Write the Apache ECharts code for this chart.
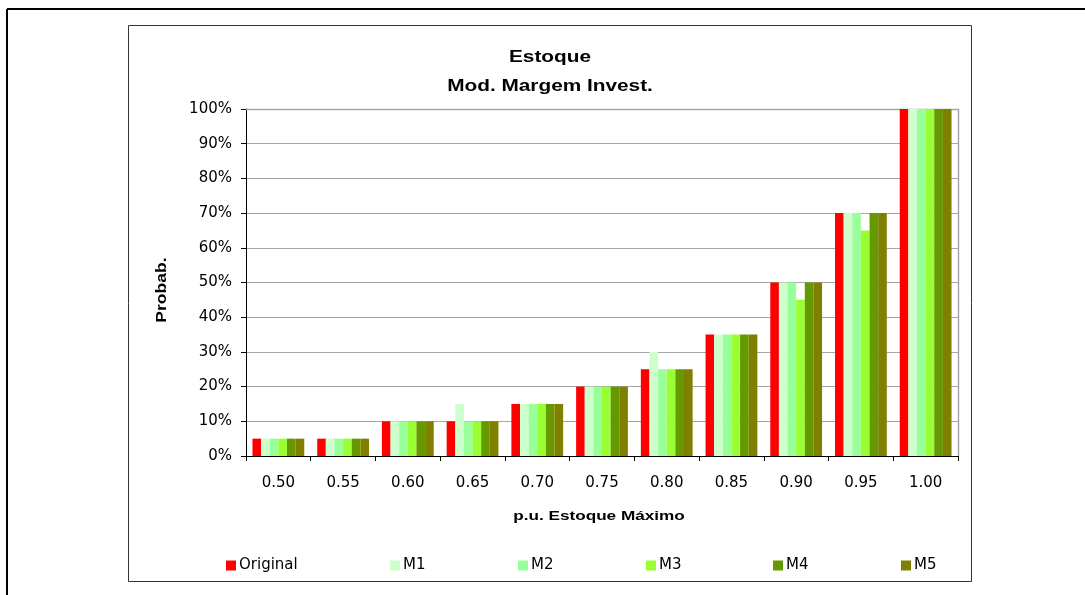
<!DOCTYPE html>
<html>
<head>
<meta charset="utf-8">
<script src="https://cdn.jsdelivr.net/npm/echarts@6/dist/echarts.min.js"></script>
<style>
  html, body { margin: 0; padding: 0; background: #fff; }
  #chart { width: 1085px; height: 595px; }
</style>
</head>
<body>
<div id="chart"></div>
<script>
// Stock probability by maximum-stock fraction, per model variant
const categories = ['0.50', '0.55', '0.60', '0.65', '0.70', '0.75', '0.80', '0.85', '0.90', '0.95', '1.00'];
const original = [5, 5, 10, 10, 15, 20, 25, 35, 50, 70, 100];
const m1 = [5, 5, 10, 15, 15, 20, 30, 35, 50, 70, 100];
const m2 = [5, 5, 10, 10, 15, 20, 25, 35, 50, 70, 100];
const m3 = [5, 5, 10, 10, 15, 20, 25, 35, 45, 65, 100];
const m4 = [5, 5, 10, 10, 15, 20, 25, 35, 50, 70, 100];
const m5 = [5, 5, 10, 10, 15, 20, 25, 35, 50, 70, 100];
const seriesNames = ['Original', 'M1', 'M2', 'M3', 'M4', 'M5'];
const seriesData = [original, m1, m2, m3, m4, m5];
const colors = ['#ff0000', '#ccffcc', '#99ff99', '#99ff33', '#669900', '#808000'];
const legendLefts = [221, 385, 513, 641, 768, 896];
const titleLines = ['Estoque', 'Mod. Margem Invest.'];
const xAxisTitle = 'p.u. Estoque Máximo';
const yAxisTitle = 'Probab.';

const LABEL_FONT = '"DejaVu Sans", "Liberation Sans", sans-serif';
const HEAD_FONT = '"Liberation Sans", Arial, sans-serif';

const chart = echarts.init(document.getElementById('chart'), null, { renderer: 'canvas' });

// wide bold heading text, centred on (x, y)
function heading(text, x, y, size, stretch, rotation) {
  return {
    type: 'text',
    x: x, y: y,
    rotation: rotation || 0,
    scaleX: stretch,
    style: {
      text: text,
      fontFamily: HEAD_FONT,
      fontSize: size,
      fontWeight: 'bold',
      fill: '#000',
      align: 'center',
      verticalAlign: 'middle'
    },
    z: 10
  };
}

const option = {
  backgroundColor: '#ffffff',
  animation: false,
  color: colors,
  textStyle: { fontFamily: LABEL_FONT, color: '#000' },
  legend: seriesNames.map((name, i) => ({
    data: [name],
    left: legendLefts[i],
    top: 553,
    itemWidth: 10,
    itemHeight: 10,
    itemGap: 4,
    icon: 'rect',
    selectedMode: false,
    textStyle: { fontFamily: LABEL_FONT, fontSize: 15, color: '#000', padding: [0, 0, 0, -2] }
  })),
  grid: { left: 246, right: 127, top: 109, bottom: 139, containLabel: false },
  xAxis: {
    type: 'category',
    data: categories,
    axisLine: { lineStyle: { color: '#000', width: 1 } },
    axisTick: { show: true, length: 5, lineStyle: { color: '#000' } },
    axisLabel: { fontFamily: LABEL_FONT, fontSize: 15, color: '#000', margin: 20 }
  },
  yAxis: {
    type: 'value',
    min: 0,
    max: 100,
    interval: 10,
    axisLine: { show: true, lineStyle: { color: '#000', width: 1 } },
    axisTick: { show: true, length: 5, lineStyle: { color: '#000' } },
    axisLabel: { fontFamily: LABEL_FONT, fontSize: 15, color: '#000', margin: 14, formatter: '{value}%' },
    splitLine: { show: true, lineStyle: { color: '#a6a6a6', width: 1 } }
  },
  series: seriesNames.map((name, i) => ({
    name: name,
    type: 'bar',
    data: seriesData[i],
    barGap: '0%',
    barCategoryGap: '20%',
    itemStyle: { color: colors[i] },
    emphasis: { disabled: true }
  })),
  graphic: [
    // outer frame: top and left edges
    { type: 'line', shape: { x1: 7, y1: 9, x2: 1085, y2: 9 }, style: { stroke: '#000', lineWidth: 2 } },
    { type: 'line', shape: { x1: 7, y1: 9, x2: 7, y2: 595 }, style: { stroke: '#000', lineWidth: 2 } },
    // chart area border
    { type: 'rect', shape: { x: 128.5, y: 25.5, width: 843, height: 556 }, style: { fill: 'none', stroke: '#333', lineWidth: 1 }, z: 0 },
    // plot area top and right edges
    { type: 'polyline', shape: { points: [[246, 109.5], [958.5, 109.5], [958.5, 456]] }, style: { fill: 'none', stroke: '#a6a6a6', lineWidth: 1.5 }, z: 1 },
    // chart title and axis titles
    heading(titleLines[0], 550, 58, 16, 1.3),
    heading(titleLines[1], 550, 87, 16, 1.3),
    heading(xAxisTitle, 599, 516, 13, 1.32),
    heading(yAxisTitle, 162, 290, 15, 1.17, Math.PI / 2)
  ]
};

chart.setOption(option);
</script>
</body>
</html>
